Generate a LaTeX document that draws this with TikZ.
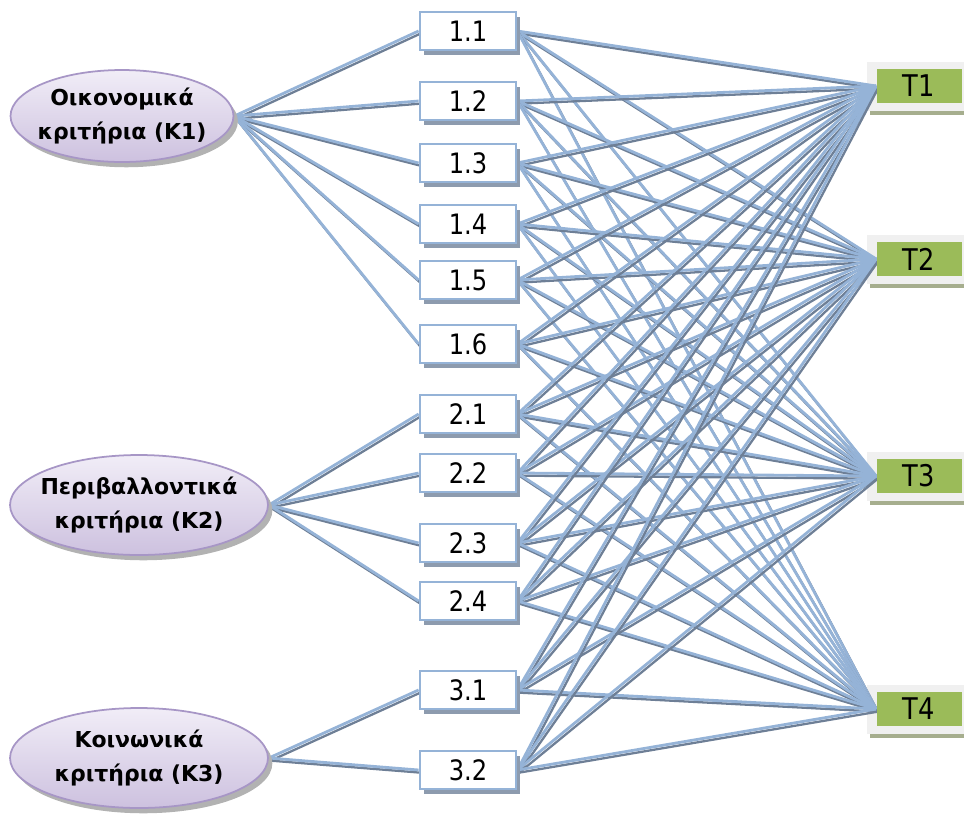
\documentclass[tikz,border=0pt]{standalone}
\usepackage{fontspec}
\setmainfont{DejaVu Sans}
\newfontfamily\narrowfont{DejaVu Sans}[FakeStretch=0.86]
\usetikzlibrary{shapes.geometric,shadows,backgrounds}
\definecolor{linkblue}{HTML}{95B3D7}
\definecolor{linkgray}{HTML}{6E7F96}
\definecolor{boxshade}{HTML}{8D9BAE}
\definecolor{critline}{HTML}{A796C6}
\definecolor{crittop}{HTML}{F1EDF7}
\definecolor{critbot}{HTML}{CDC1DF}
\definecolor{altgreen}{HTML}{9BBB59}
\definecolor{altback}{HTML}{F0F0F0}
\definecolor{altstrip}{HTML}{A6AE8E}

\begin{document}
\begin{tikzpicture}[x=0.02cm,y=-0.02cm,
crit/.style={ellipse,draw=critline,line width=1pt,top color=crittop,bottom color=critbot,inner xsep=-40pt,inner ysep=-12pt,align=center,font=\bfseries\fontsize{12.5}{19}\selectfont,drop shadow={shadow xshift=2.5pt,shadow yshift=-3pt,fill=black!30,opacity=1}},
sub/.style={draw=linkblue,line width=1.6pt,fill=white,minimum width=1.92cm,minimum height=0.76cm,inner sep=0pt,font=\narrowfont\fontsize{16}{18}\selectfont,drop shadow={shadow xshift=2.3pt,shadow yshift=-2.8pt,fill=boxshade,opacity=1}},
alt/.style={fill=altgreen,minimum width=1.7cm,minimum height=0.68cm,inner sep=0pt,font=\narrowfont\fontsize{17}{18}\selectfont},
link/.style={draw=linkblue,line width=1.6pt},
linkshade/.style={draw=linkgray,line width=1.3pt,transform canvas={xshift=1pt,yshift=-1.5pt}}]
\useasboundingbox (0,0) rectangle (964,816);
% criteria
\node[crit,minimum width=4.46cm,minimum height=1.84cm] (k1) at (122,116) {Οικονομικά\\κριτήρια (Κ1)};
\node[crit,minimum width=5.16cm,minimum height=2cm] (k2) at (139,505) {Περιβαλλοντικά\\κριτήρια (Κ2)};
\node[crit,minimum width=5.16cm,minimum height=2cm] (k3) at (139,758) {Κοινωνικά\\κριτήρια (Κ3)};
% sub-criteria
\foreach \n/\y in {11/31,12/101,13/163,14/224,15/280,16/344,21/414,22/473,23/543,24/601,31/690,32/770}
  \node[sub] (b\n) at (468,\y) {\pgfmathparse{int(\n/10)}\pgfmathresult.\pgfmathparse{int(mod(\n,10))}\pgfmathresult};
% alternatives
\foreach \i/\y in {1/86,2/259,3/476,4/709}
  \node[alt] (t\i) at (919,\y) {T\i};
\begin{pgfonlayer}{background}
\foreach \i in {1,...,4} {
  \fill[altback] ([shift={(-9,-7)}]t\i.north west) rectangle ([shift={(2,8)}]t\i.south east);
  \fill[altstrip] ([shift={(-6,8)}]t\i.south west) rectangle ([shift={(2,12)}]t\i.south east);
}
\foreach \k/\n in {1/11,1/12,1/13,1/14,1/15,1/16,2/21,2/22,2/23,2/24,3/31,3/32} {
  \draw[linkshade] (k\k.east) -- (b\n.west);
  \draw[link] (k\k.east) -- (b\n.west);
}
\foreach \n in {11,12,13,14,15,16,21,22,23,24,31,32}
  \foreach \i in {1,...,4} {
    \draw[linkshade] (b\n.east) -- (t\i.west);
    \draw[link] (b\n.east) -- (t\i.west);
  }
\end{pgfonlayer}
\end{tikzpicture}
\end{document}
